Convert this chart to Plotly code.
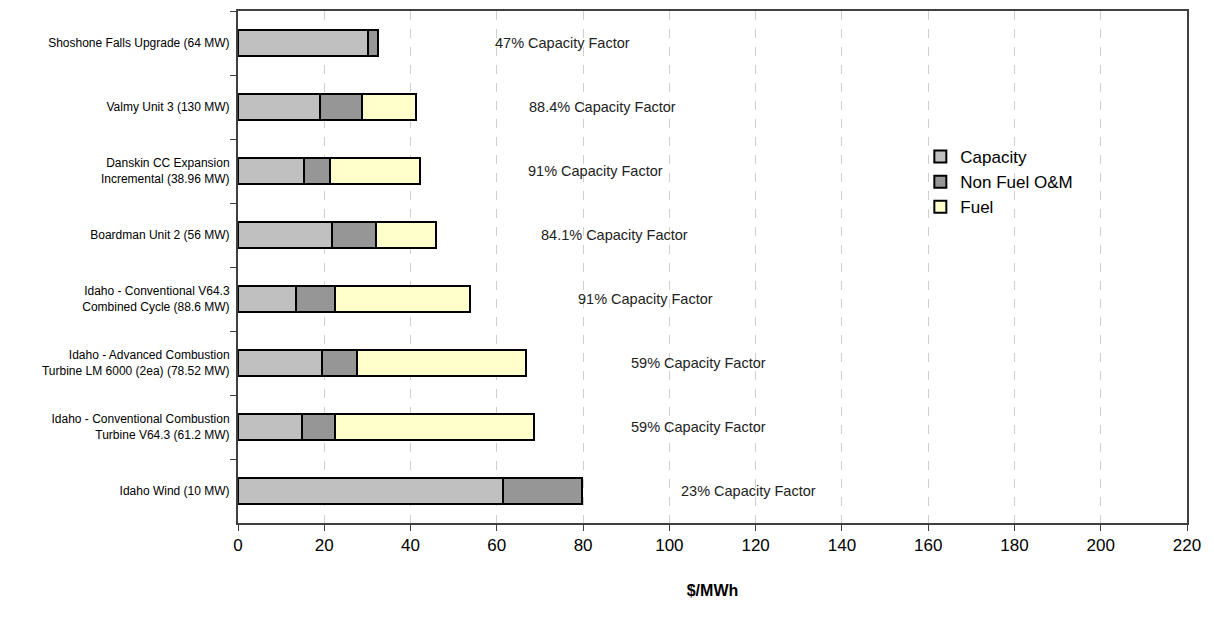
import plotly.graph_objects as go

# plants listed top to bottom as in the chart
plants = [
    "Shoshone Falls Upgrade (64 MW)",
    "Valmy Unit 3 (130 MW)",
    "Danskin CC Expansion<br>Incremental (38.96 MW)",
    "Boardman Unit 2 (56 MW)",
    "Idaho - Conventional V64.3<br>Combined Cycle (88.6 MW)",
    "Idaho - Advanced Combustion<br>Turbine LM 6000 (2ea) (78.52 MW)",
    "Idaho - Conventional Combustion<br>Turbine V64.3 (61.2 MW)",
    "Idaho Wind (10 MW)",
]
capacity = [30.1, 19.0, 15.2, 21.8, 13.4, 19.5, 14.8, 61.5]
non_fuel_om = [2.3, 9.7, 6.1, 10.1, 9.2, 8.2, 7.8, 18.2]
fuel = [0, 12.5, 20.8, 14.0, 31.1, 39.0, 46.0, 0]
cap_factor = ["47% Capacity Factor", "88.4% Capacity Factor", "91% Capacity Factor",
              "84.1% Capacity Factor", "91% Capacity Factor", "59% Capacity Factor",
              "59% Capacity Factor", "23% Capacity Factor"]
label_x = [75.3, 84.5, 82.9, 87.3, 94.5, 106.8, 106.8, 118.3]

series = [
    ("Capacity", capacity, "#C0C0C0"),
    ("Non Fuel O&M", non_fuel_om, "#969696"),
    ("Fuel", fuel, "#FFFFCC"),
]

fig = go.Figure()
for name, vals, color in series:
    fig.add_trace(go.Bar(
        y=plants, x=vals, name=name, orientation="h", legendgroup=name,
        marker=dict(color=color, line=dict(color="black", width=2)),
    ))

for p, txt, lx in zip(plants, cap_factor, label_x):
    fig.add_annotation(x=lx, y=p, text=txt, showarrow=False,
                       font=dict(size=14.5, color="#222222"))

# page body adds 8px around the figure, so size/margins are trimmed to match
fig.update_layout(
    barmode="stack",
    bargap=0.6,
    width=1206, height=617,
    margin=dict(l=230, r=27, t=1, b=102),
    plot_bgcolor="white",
    paper_bgcolor="white",
    font=dict(family="Liberation Sans, Arial, sans-serif", color="black"),
    showlegend=True,
    legend=dict(x=0.719, y=0.75, xanchor="left", yanchor="top",
                font=dict(size=17), bgcolor="rgba(0,0,0,0)",
                traceorder="normal", tracegroupgap=1),
)
fig.update_xaxes(
    range=[0, 220], dtick=20, tick0=0,
    showline=True, linecolor="#404040", linewidth=2, mirror=True,
    ticks="outside", ticklen=6, tickcolor="#404040",
    showgrid=True, gridcolor="#CFCFCF", griddash="dash", gridwidth=1,
    zeroline=False,
    tickfont=dict(size=17),
    title=dict(text="<b>$/MWh</b>", font=dict(size=16), standoff=30),
)
fig.update_yaxes(
    categoryorder="array", categoryarray=plants, autorange="reversed",
    showline=True, linecolor="#404040", linewidth=2, mirror=True,
    ticks="outside", ticklen=6, tickcolor="#404040", tickson="boundaries",
    tickfont=dict(size=12), ticklabelstandoff=4,
)

fig.write_html("out.html")
